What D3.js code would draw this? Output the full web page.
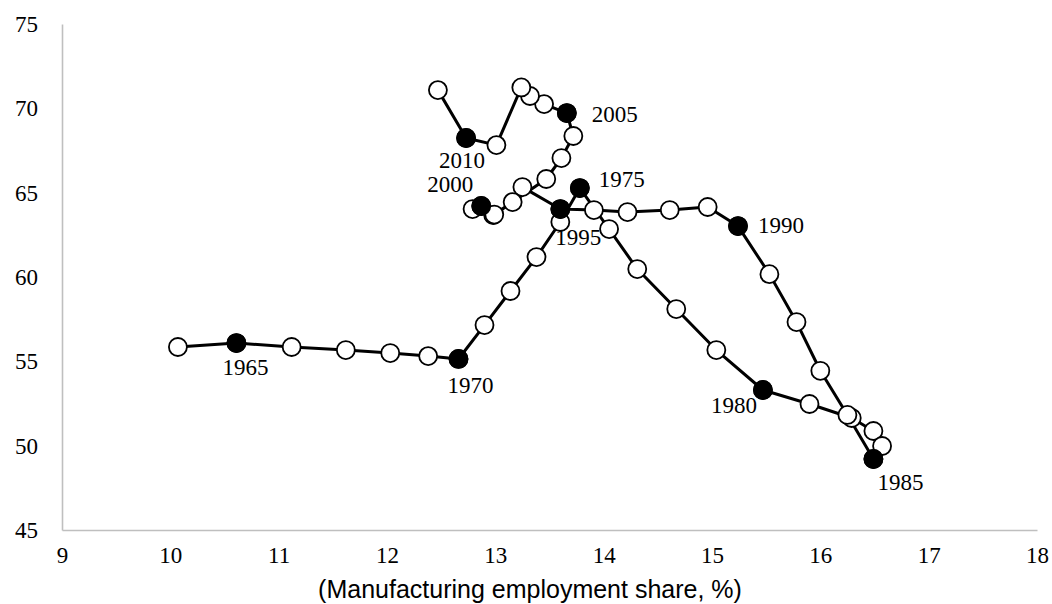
<!DOCTYPE html>
<html>
<head>
<meta charset="utf-8">
<script src="https://cdn.jsdelivr.net/npm/d3@7/dist/d3.min.js"></script>
<style>
  html, body { margin: 0; padding: 0; background: #fff; }
  svg { display: block; }
</style>
</head>
<body>
<svg id="chart" width="1052" height="604"></svg>
<script>
// Years of the trajectory
const years = [1964,1965,1966,1967,1968,1969,1970,1971,1972,1973,1974,1975,1976,1977,1978,1979,
  1980,1981,1982,1983,1984,1985,1986,1987,1988,1989,1990,1991,1992,1993,1994,1995,1996,1997,1998,1999,
  2000,2001,2002,2003,2004,2005,2006,2007,2008,2009,2010,2011];

// Manufacturing employment share (%)
const empShare = [10.07,10.61,11.12,11.62,12.03,12.38,12.66,12.90,13.14,13.38,13.60,13.78,14.05,14.31,14.67,15.04,
  15.47,15.90,16.29,16.49,16.57,16.49,16.25,16.00,15.78,15.53,15.24,14.96,14.61,14.22,13.91,13.60,13.25,13.16,12.98,12.79,
  12.87,12.99,13.47,13.61,13.72,13.66,13.45,13.32,13.24,13.01,12.73,12.47];

// Vertical measure
const yValue = [55.85,56.08,55.85,55.67,55.49,55.31,55.14,57.15,59.17,61.18,63.26,65.27,62.84,60.47,58.10,55.67,
  53.30,52.47,51.64,50.87,49.98,49.21,51.82,54.44,57.33,60.17,63.02,64.15,63.97,63.85,63.97,64.03,65.33,64.44,63.67,64.03,
  64.21,63.70,65.81,67.05,68.36,69.72,70.25,70.73,71.24,67.82,68.24,71.08];

// Axis ticks
const xTicks = [9,10,11,12,13,14,15,16,17,18];
const yTicks = [45,50,55,60,65,70,75];

// Years marked with a filled dot and a label
const markedYears = [1965,1970,1975,1980,1985,1990,1995,2000,2005,2010];

// Label placement relative to each marked point (pixels)
const labelPlacement = {
  1965: {dx: 9,  dy: 32, anchor: "middle"},
  1970: {dx: 12, dy: 34, anchor: "middle"},
  1975: {dx: 19, dy: -1, anchor: "start"},
  1980: {dx: -6, dy: 23, anchor: "end"},
  1985: {dx: 4,  dy: 31, anchor: "start"},
  1990: {dx: 20, dy: 7,  anchor: "start"},
  1995: {dx: -5, dy: 36, anchor: "start"},
  2000: {dx: -8, dy: -14, anchor: "end"},
  2005: {dx: 25, dy: 9,  anchor: "start"},
  2010: {dx: -4, dy: 30, anchor: "middle"}
};

const data = years.map((yr, i) => ({year: yr, x: empShare[i], y: yValue[i]}));

const svg = d3.select("#chart");
const x = d3.scaleLinear().domain([9, 18]).range([62, 1037]);
const y = d3.scaleLinear().domain([45, 75]).range([530, 24]);

const serif = "'Liberation Serif', 'Times New Roman', serif";

// Axes
const xAxis = svg.append("g")
  .attr("transform", "translate(0,530)")
  .call(d3.axisBottom(x).tickValues(xTicks).tickSize(0).tickPadding(17).tickFormat(d3.format("d")));
const yAxis = svg.append("g")
  .attr("transform", "translate(62,0)")
  .call(d3.axisLeft(y).tickValues(yTicks).tickSize(0).tickPadding(24).tickFormat(d3.format("d")));

[xAxis, yAxis].forEach(g => {
  g.select(".domain").attr("stroke", "#bfbfbf").attr("stroke-width", 1.6);
  g.selectAll("text").attr("font-family", serif).attr("font-size", 23).attr("fill", "#000");
});

// Axis title
svg.append("text")
  .attr("x", 530).attr("y", 598)
  .attr("text-anchor", "middle")
  .attr("font-family", "'Liberation Sans', Arial, sans-serif")
  .attr("font-size", 25)
  .attr("fill", "#000")
  .text("(Manufacturing employment share, %)");

// Trajectory line
const line = d3.line().x(d => x(d.x)).y(d => y(d.y));
svg.append("path")
  .datum(data)
  .attr("d", line)
  .attr("fill", "none")
  .attr("stroke", "#000")
  .attr("stroke-width", 3)
  .attr("stroke-linejoin", "round");

// Yearly markers
svg.append("g").selectAll("circle")
  .data(data)
  .join("circle")
  .attr("cx", d => x(d.x))
  .attr("cy", d => y(d.y))
  .attr("r", 9)
  .attr("fill", "#fff")
  .attr("stroke", "#000")
  .attr("stroke-width", 1.8);

// Five-year markers
const marked = data.filter(d => markedYears.includes(d.year));
svg.append("g").selectAll("circle")
  .data(marked)
  .join("circle")
  .attr("cx", d => x(d.x))
  .attr("cy", d => y(d.y))
  .attr("r", 9)
  .attr("fill", "#000")
  .attr("stroke", "#000")
  .attr("stroke-width", 1.8);

// Year labels
svg.append("g").selectAll("text")
  .data(marked)
  .join("text")
  .attr("x", d => x(d.x) + labelPlacement[d.year].dx)
  .attr("y", d => y(d.y) + labelPlacement[d.year].dy)
  .attr("text-anchor", d => labelPlacement[d.year].anchor)
  .attr("font-family", serif)
  .attr("font-size", 23)
  .attr("fill", "#000")
  .text(d => d.year);
</script>
</body>
</html>
